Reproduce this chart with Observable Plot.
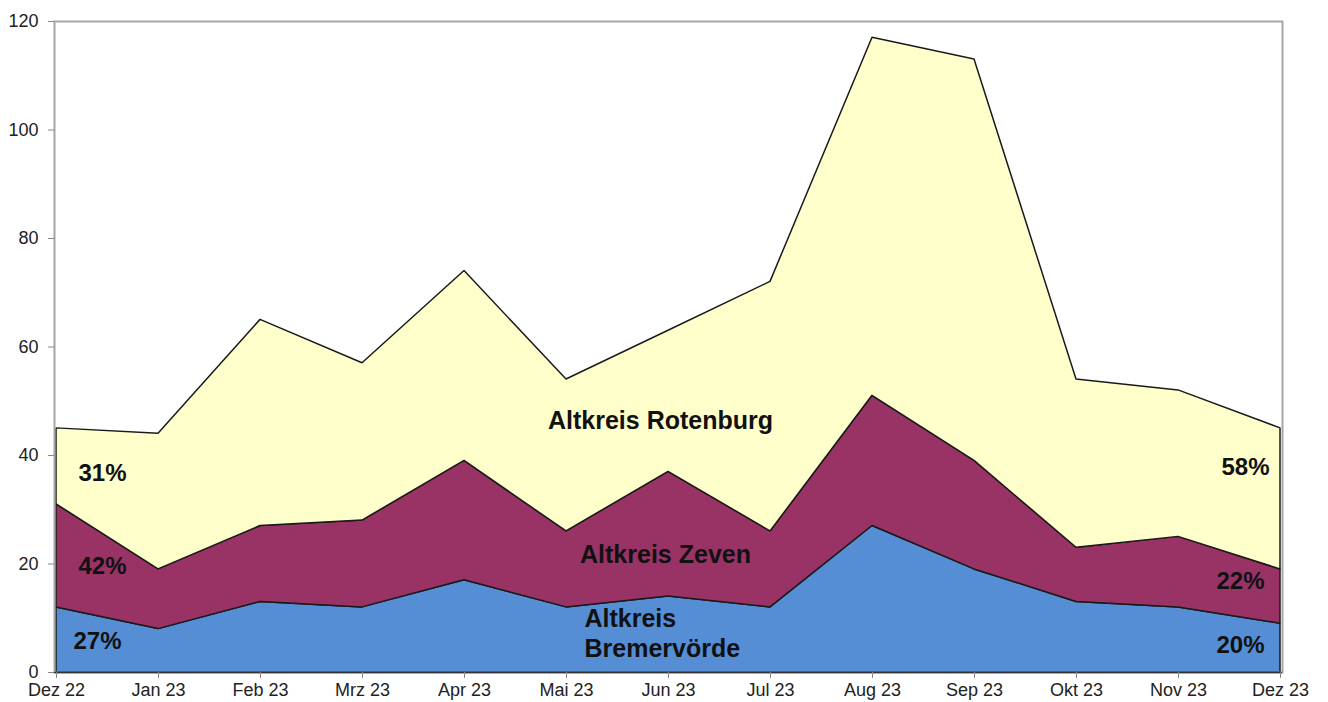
<!DOCTYPE html>
<html><head><meta charset="utf-8">
<script src="https://cdn.jsdelivr.net/npm/d3@7"></script>
<script src="https://cdn.jsdelivr.net/npm/@observablehq/plot@0.6"></script>
<style>
body{margin:0;background:#fff}
svg{font-family:"Liberation Sans",Arial,sans-serif}
</style>
</head><body><div id="chart"></div>
<script>
const months = ["Dez 22","Jan 23","Feb 23","Mrz 23","Apr 23","Mai 23","Jun 23","Jul 23","Aug 23","Sep 23","Okt 23","Nov 23","Dez 23"];
const seriesNames = ["Altkreis Bremervörde","Altkreis Zeven","Altkreis Rotenburg"];
const bremervoerde = [12, 8, 13, 12, 17, 12, 14, 12, 27, 19, 13, 12, 9];
const zeven        = [19, 11, 14, 16, 22, 14, 23, 14, 24, 20, 10, 13, 10];
const rotenburg    = [14, 25, 38, 29, 35, 28, 26, 46, 66, 74, 31, 27, 26];
const seriesColors = ["#558ED5","#993366","#FFFFCC"];
const yTicks = [0, 20, 40, 60, 80, 100, 120];

const values = [bremervoerde, zeven, rotenburg];
const data = [];
months.forEach((m, i) => seriesNames.forEach((s, j) => data.push({month: m, series: s, value: values[j][i]})));

// percentage shares at first and last month
const pct = (j, i) => Math.round(100 * values[j][i] / (bremervoerde[i] + zeven[i] + rotenburg[i])) + "%";
const first = months[0], last = months[months.length - 1];
const nL = months.length - 1;

const labelFont = {fontSize: 24, fontWeight: "bold", fill: "#111"};

const chart = Plot.plot({
  width: 1328,
  height: 702,
  marginLeft: 54,
  marginRight: 46,
  marginTop: 21,
  marginBottom: 30,
  style: {fontFamily: "'Liberation Sans', Arial, sans-serif", background: "#fff"},
  x: {type: "point", domain: months, padding: 0, label: null},
  y: {domain: [0, 120], label: null},
  color: {domain: seriesNames, range: seriesColors},
  marks: [
    Plot.areaY(data, {x: "month", y: "value", fill: "series", order: seriesNames, stroke: "#1a1a1a", strokeWidth: 1.5, strokeLinejoin: "miter"}),
    Plot.frame({stroke: "#a6a6a6", strokeWidth: 2}),
    Plot.ruleY([0], {stroke: "#333", strokeWidth: 1.5}),
    Plot.axisY({ticks: yTicks, label: null, tickSize: 6, tickPadding: 10, fontSize: 18, stroke: "#888", fill: "#222"}),
    Plot.axisX({label: null, tickSize: 6, tickPadding: 5, fontSize: 18, stroke: "#888", fill: "#222"}),
    Plot.text(["Altkreis Rotenburg"], {x: () => "Jun 23", y: () => 46.4, text: d => d, dx: -8, textAnchor: "middle", ...labelFont, fontSize: 25}),
    Plot.text(["Altkreis Zeven"], {x: () => "Jun 23", y: () => 21.6, text: d => d, dx: -3, textAnchor: "middle", ...labelFont, fontSize: 25}),
    Plot.text(["Altkreis\nBremervörde"], {x: () => "Mai 23", y: () => 7.4, text: d => d, dx: 18, textAnchor: "start", lineHeight: 1.2, ...labelFont, fontSize: 25}),
    Plot.text([pct(2, 0)], {x: () => first, y: () => 36.7, text: d => d, dx: 46, textAnchor: "middle", ...labelFont}),
    Plot.text([pct(1, 0)], {x: () => first, y: () => 19.5, text: d => d, dx: 46, textAnchor: "middle", ...labelFont}),
    Plot.text([pct(0, 0)], {x: () => first, y: () => 5.7, text: d => d, dx: 41, textAnchor: "middle", ...labelFont}),
    Plot.text([pct(2, nL)], {x: () => last, y: () => 37.8, text: d => d, dx: -35, textAnchor: "middle", ...labelFont}),
    Plot.text([pct(1, nL)], {x: () => last, y: () => 16.8, text: d => d, dx: -40, textAnchor: "middle", ...labelFont}),
    Plot.text([pct(0, nL)], {x: () => last, y: () => 5.0, text: d => d, dx: -40, textAnchor: "middle", ...labelFont})
  ]
});
document.getElementById("chart").appendChild(chart);
</script>
</body></html>
